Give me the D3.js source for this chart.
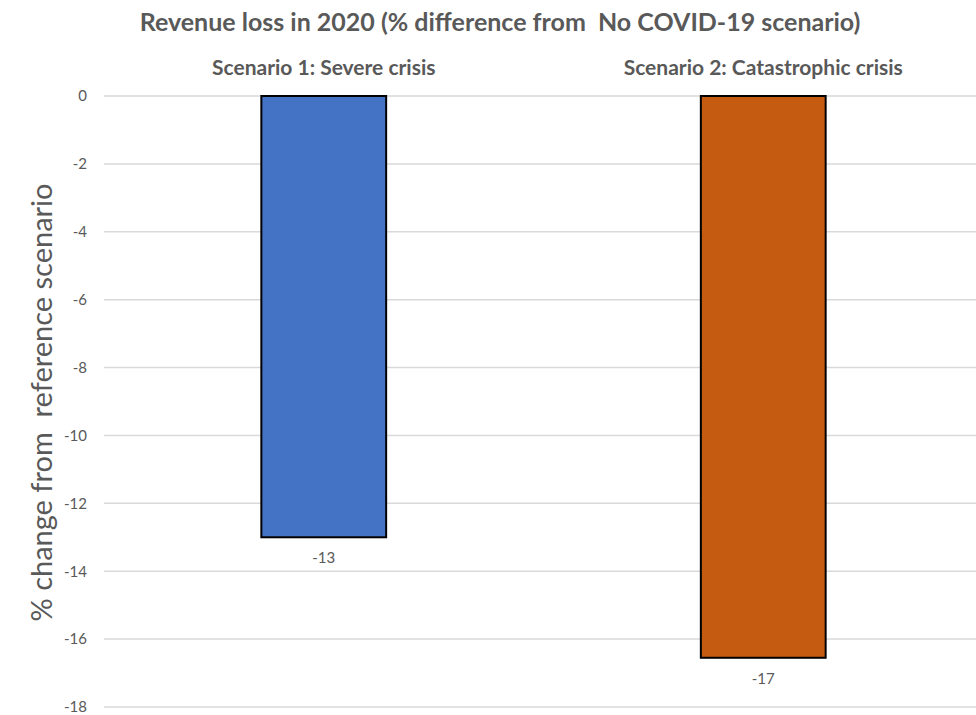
<!DOCTYPE html>
<html>
<head>
<meta charset="utf-8">
<script src="https://cdn.jsdelivr.net/npm/d3@7"></script>
<style>
  html, body { margin: 0; padding: 0; background: #fff; }
  svg { display: block; font-family: Lato, "Open Sans", sans-serif; }
</style>
</head>
<body>
<svg id="chart" width="976" height="715"></svg>
<script>
// Revenue loss per scenario, % difference from the no-COVID baseline
const categories = ["Scenario 1: Severe crisis", "Scenario 2: Catastrophic crisis"];
const values = [-13, -16.55];
const barColors = ["#4472C4", "#C55A11"];
const yTicks = [0, -2, -4, -6, -8, -10, -12, -14, -16, -18];

const svg = d3.select("#chart");
const W = 976, H = 715;
const margin = { top: 96, right: -7, bottom: 8, left: 104 };

const x = d3.scaleBand()
  .domain(categories)
  .range([margin.left, W - margin.right])
  .paddingInner(0.716)
  .paddingOuter(0.358);

const y = d3.scaleLinear()
  .domain([0, -18])
  .range([margin.top, H - margin.bottom]);

const textColor = "#595959";
// plain hyphen-minus, as in spreadsheet output
const fmt = v => String(Math.round(v));

// horizontal gridlines
svg.append("g")
  .selectAll("line")
  .data(yTicks)
  .join("line")
  .attr("x1", margin.left)
  .attr("x2", W)
  .attr("y1", d => y(d))
  .attr("y2", d => y(d))
  .attr("stroke", "#d9d9d9")
  .attr("stroke-width", 1.5);

// y axis tick labels
const yAxis = d3.axisLeft(y).tickValues(yTicks).tickSize(0).tickPadding(0).tickFormat(fmt);
const gy = svg.append("g")
  .attr("transform", `translate(${margin.left - 17},0)`)
  .call(yAxis);
gy.select(".domain").remove();
gy.selectAll("text")
  .attr("fill", textColor)
  .style("font-size", "15px")
  .style("font-family", "Lato, 'Open Sans', sans-serif");

// bars hang down from zero
svg.append("g")
  .selectAll("rect")
  .data(categories)
  .join("rect")
  .attr("x", d => x(d))
  .attr("width", x.bandwidth())
  .attr("y", y(0))
  .attr("height", (d, i) => y(values[i]) - y(0))
  .attr("fill", (d, i) => barColors[i])
  .attr("stroke", "#000")
  .attr("stroke-width", 2);

// value labels below each bar
svg.append("g")
  .selectAll("text")
  .data(categories)
  .join("text")
  .attr("x", d => x(d) + x.bandwidth() / 2)
  .attr("y", (d, i) => y(values[i]) + 26)
  .attr("text-anchor", "middle")
  .attr("fill", textColor)
  .style("font-size", "15px")
  .text((d, i) => fmt(values[i]));

// category labels across the top
const xAxis = d3.axisTop(x).tickSize(0).tickPadding(0);
const gx = svg.append("g")
  .attr("transform", `translate(0,${margin.top - 21})`)
  .call(xAxis);
gx.select(".domain").remove();
gx.selectAll("text")
  .attr("fill", textColor)
  .style("font-size", "21px")
  .style("font-weight", "bold")
  .style("font-family", "Lato, 'Open Sans', sans-serif");

// chart title
svg.append("text")
  .attr("x", 500)
  .attr("y", 31)
  .attr("text-anchor", "middle")
  .attr("fill", textColor)
  .style("font-size", "25px")
  .style("font-weight", "bold")
  .style("white-space", "pre")
  .text("Revenue loss in 2020 (% difference from\u00a0 No COVID-19 scenario)");

// y axis title
svg.append("text")
  .attr("transform", `translate(52,${(y(0) + y(-18)) / 2 + 1}) rotate(-90)`)
  .attr("text-anchor", "middle")
  .attr("fill", textColor)
  .style("font-size", "29px")
  .style("white-space", "pre")
  .text("% change from\u00a0 reference scenario");
</script>
</body>
</html>
